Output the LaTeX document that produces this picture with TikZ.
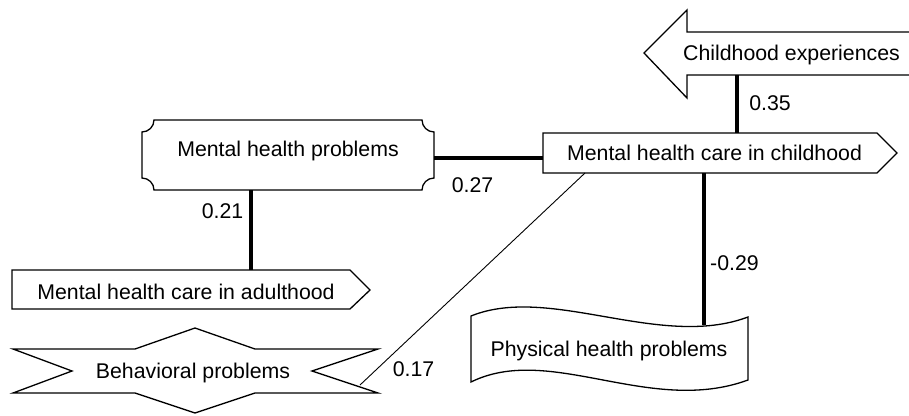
\documentclass[tikz,border=0pt]{standalone}
\usepackage{fontspec}
\setmainfont{Liberation Sans}
\begin{document}
\begin{tikzpicture}[x=1pt,y=-1pt,
  label text/.style={font=\fontsize{21.3}{24}\selectfont, inner sep=0pt, anchor=base},
  outline/.style={draw=black, line width=1.3pt, line join=miter, fill=white},
  link/.style={draw=black, line width=4.5pt},
  thinlink/.style={draw=black, line width=0.9pt},
  coef/.style={font=\fontsize{21.3}{24}\selectfont, inner sep=0pt, anchor=base}]
\useasboundingbox (0,0) rectangle (909,415);
\clip (0,0) rectangle (909,415);

% --- outlines of the boxes ---
% left-pointing arrow (runs off the right edge)
\path[outline] (915,32) -- (687,32) -- (687,10) -- (644,53) -- (687,98) -- (687,75) -- (915,75);
% tag pointing right
\path[outline] (543,133) -- (877,133) -- (897,153) -- (877,173) -- (543,173) -- cycle;
% box with concave corners
\def\rr{12}
\path[outline] (142+\rr,120) -- (434-\rr,120)
  .. controls (434-\rr,120+0.55*\rr) and (434-0.55*\rr,120+\rr) .. (434,120+\rr)
  -- (434,190-\rr)
  .. controls (434-0.55*\rr,190-\rr) and (434-\rr,190-0.55*\rr) .. (434-\rr,190)
  -- (142+\rr,190)
  .. controls (142+\rr,190-0.55*\rr) and (142+0.55*\rr,190-\rr) .. (142,190-\rr)
  -- (142,120+\rr)
  .. controls (142+0.55*\rr,120+\rr) and (142+\rr,120+0.55*\rr) .. (142+\rr,120) -- cycle;
% tag pointing right
\path[outline] (12,270) -- (350,270) -- (370,290) -- (350,309) -- (12,309) -- cycle;
% notched star
\path[outline] (13,349) -- (135,349) -- (195,328) -- (255,349) -- (378,349) -- (312,371)
  -- (378,393) -- (255,393) -- (195,413) -- (135,393) -- (13,393) -- (72,371) -- cycle;
% wavy banner
\path[outline] (471,316) .. controls (550,284) and (660,350) .. (748,317)
  -- (748,380) .. controls (650,416) and (550,343) .. (471,382) -- cycle;

% --- texts ---
\node[label text] (ce)  at (791.5,60)  {Childhood experiences};
\node[label text] (cc)  at (714.5,160.5) {Mental health care in childhood};
\node[label text] (mhp) at (288,156.5) {Mental health problems};
\node[label text] (ca)  at (186,299)   {Mental health care in adulthood};
\node[label text] (bp)  at (193,378)   {Behavioral problems};
\node[label text] (ph)  at (609,356)   {Physical health problems};

% --- connector ends on the outlines ---
\coordinate (ce-s)  at (737,75);
\coordinate (cc-n)  at (737,133);
\coordinate (cc-w)  at (543,158);
\coordinate (cc-s)  at (704,173);
\coordinate (cc-sw) at (585,173);
\coordinate (mhp-e) at (434,158);
\coordinate (mhp-s) at (251,190);
\coordinate (ca-n)  at (251,270);
\coordinate (ph-n)  at (704,325);
\coordinate (bp-e)  at (360,385);

% --- connectors ---
\draw[link] (ce-s) -- (cc-n);
\draw[link] (mhp-e) -- (cc-w);
\draw[link] (mhp-s) -- (ca-n);
\draw[link] (cc-s) -- (ph-n);
\draw[thinlink] (cc-sw) -- (bp-e);

% --- coefficients ---
\node[coef] (k1) at (770,110)   {0.35};
\node[coef] (k2) at (472.5,192) {0.27};
\node[coef] (k3) at (222.5,218) {0.21};
\node[coef] (k4) at (734.5,270) {-0.29};
\node[coef] (k5) at (413.5,376) {0.17};
\end{tikzpicture}
\end{document}
